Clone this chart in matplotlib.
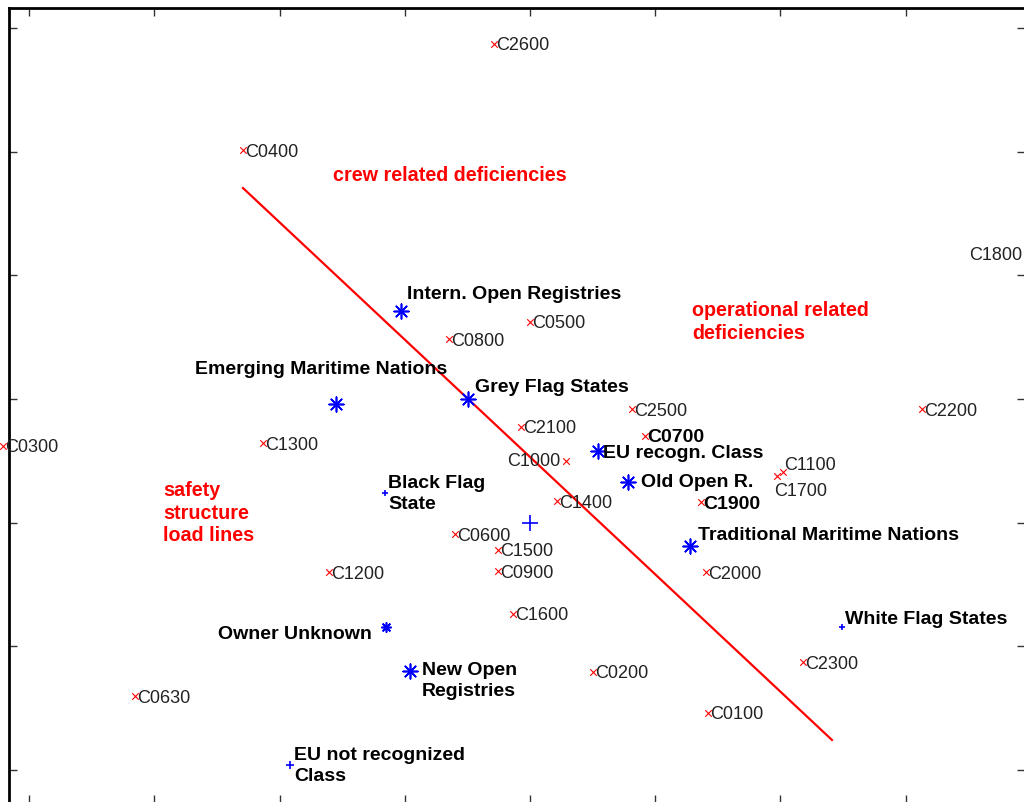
import matplotlib
matplotlib.use("Agg")
import matplotlib.pyplot as plt

plt.rcParams['font.family'] = ['Liberation Sans', 'DejaVu Sans']

# Deficiency codes (variables) in the plane of the first two components
codes = ['C2600', 'C0400', 'C1800', 'C0300', 'C0500', 'C0800', 'C2500', 'C2200',
         'C2100', 'C0700', 'C1300', 'C1000', 'C1100', 'C1700', 'C1400', 'C1900',
         'C0600', 'C1500', 'C0900', 'C1200', 'C2000', 'C1600', 'C2300', 'C0200',
         'C0630', 'C0100']
code_x = [-0.288, -2.292, 3.994, -4.209, 0.000, -0.647, 0.815, 3.131,
          -0.072, 0.919, -2.133, 0.288, 2.021, 1.973, 0.216, 1.366,
          -0.599, -0.256, -0.256, -1.605, 1.406, -0.136, 2.181, 0.503,
          -3.155, 1.422]
code_y = [2.871, 2.013, 1.172, -0.380, 0.623, 0.485, -0.081, -0.081,
          -0.226, -0.299, -0.356, -0.501, -0.590, -0.623, -0.825, -0.833,
          -1.092, -1.221, -1.391, -1.399, -1.399, -1.738, -2.127, -2.207,
          -2.402, -2.539]
bold_codes = ['C0700', 'C1900']

# Flag-state groups (observations)
groups = ['Intern. Open Registries', 'Emerging Maritime Nations', 'Grey Flag States',
          'EU recogn. Class', 'Old Open R.', 'Black Flag\nState', '',
          'Traditional Maritime Nations', 'White Flag States', 'Owner Unknown',
          'New Open\nRegistries', 'EU not recognized\nClass']
group_x = [-1.030, -1.550, -0.495, 0.543, 0.783, -1.158, 0.000,
           1.278, 2.492, -1.150, -0.958, -1.917]
group_y = [0.712, -0.040, 0.000, -0.420, -0.671, -0.760, -1.003,
           -1.189, -1.844, -1.844, -2.199, -2.960]

# Dividing line between deficiency areas
line_x = [-2.292, 2.412]
line_y = [1.706, -2.757]

# Area captions
areas = ['crew related deficiencies', 'operational related\ndeficiencies',
         'safety\nstructure\nload lines']
area_x = [-1.573, 1.294, -2.931]
area_y = [1.819, 0.631, -0.914]

fig = plt.figure(figsize=(10.24, 8.03), dpi=100)
fig.patch.set_facecolor('white')
ax = fig.add_axes([9 / 1024, -1 / 803, 1016 / 1024, 795 / 803])
ax.set_xlim(-4.161, 3.954)
ax.set_ylim(-3.267, 3.162)
ax.set_xticks(range(-4, 4))
ax.set_yticks(range(-3, 4))
ax.set_xticklabels([])
ax.set_yticklabels([])
ax.tick_params(direction='in', length=6, width=1, color='#333333',
               top=True, right=True, bottom=True, left=True)
for s in ax.spines.values():
    s.set_linewidth(2)
    s.set_color('black')

# Dividing line
ax.plot(line_x, line_y, color='red', lw=1.6, zorder=2)

# Code markers and labels
label_offsets = {
    'C1800': (-8, 0, 'right'),
    'C1000': (-6, 0, 'right'),
    'C1100': (1, 7, 'left'),
    'C1700': (-3, -14, 'left'),
}
ax.scatter(code_x, code_y, marker='x', s=22, color='red', linewidths=0.8,
           zorder=3, clip_on=False)
for name, x, y in zip(codes, code_x, code_y):
    dx, dy, ha = label_offsets.get(name, (2, -1, 'left'))
    bold = name in bold_codes
    ax.annotate(name, (x, y), xytext=(dx, dy), textcoords='offset pixels',
                ha=ha, va='center', fontsize=14 if bold else 13,
                fontweight='bold' if bold else 'normal',
                color='black' if bold else '#222222',
                annotation_clip=False, zorder=4)

# Group markers and labels
asterisk = (8, 2, 0)
group_offsets = [(6, 17, 'left'), (-141, 35, 'left'), (7, 13, 'left'),
                 (5, -2, 'left'), (13, 0, 'left'), (3, 0, 'left'), (0, 0, 'left'),
                 (8, 12, 'left'), (3, 9, 'left'), (-14, -6, 'right'),
                 (12, -9, 'left'), (4, 0, 'left')]
group_marker = [asterisk, asterisk, asterisk, asterisk, asterisk, '+', '+',
                asterisk, '+', asterisk, asterisk, '+']
group_size = [110, 110, 110, 110, 110, 22, 140, 110, 22, 45, 110, 40]
for name, x, y, m, sz, (dx, dy, ha) in zip(groups, group_x, group_y,
                                           group_marker, group_size, group_offsets):
    ax.scatter([x], [y], marker=m, s=sz, color='blue', linewidths=1.2, zorder=3)
    if name:
        ax.annotate(name, (x, y), xytext=(dx, dy), textcoords='offset pixels',
                    ha=ha, va='center', fontsize=14, fontweight='bold',
                    color='black', zorder=4, linespacing=1.26)

# Area captions
for name, x, y in zip(areas, area_x, area_y):
    ax.text(x, y, name, ha='left', va='center', fontsize=14.2, fontweight='bold',
            color='red', linespacing=1.26, zorder=4)

fig.savefig('out.png', dpi=100, facecolor='white')
